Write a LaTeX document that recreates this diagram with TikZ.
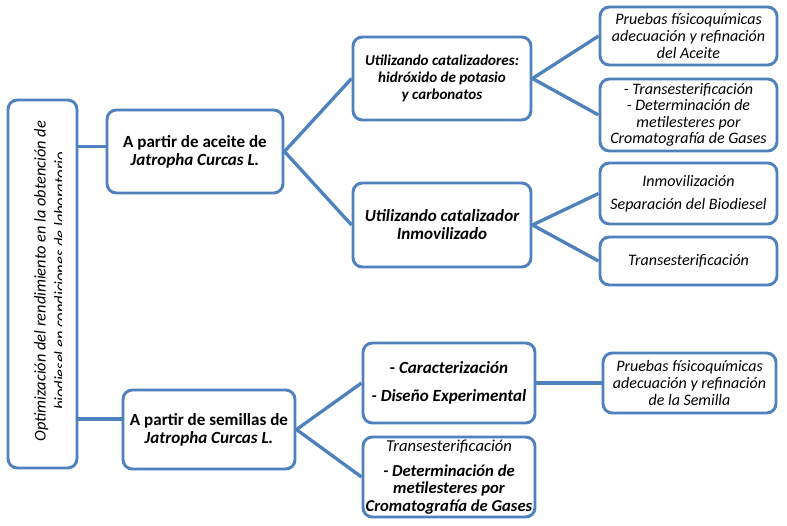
\documentclass[tikz,border=0pt]{standalone}
\usepackage{fontspec}
\setmainfont{Carlito}
\definecolor{azul}{RGB}{79,129,189}
\newcommand{\tam}{\fontsize{12.8}{13.5}\selectfont}
\newcommand{\chico}{\fontsize{12}{12.4}\selectfont}
\begin{document}
\begin{tikzpicture}[x=0.75pt,y=-0.75pt,
  caja/.style={draw=azul, line width=2.2pt, rounded corners=7pt, fill=white, align=center, inner sep=1pt, font=\tam},
  fuerte/.style={caja, font=\tam\bfseries\itshape},
  suave/.style={caja, font=\chico\itshape},
  rama/.style={draw=azul, line width=2.5pt}]
\useasboundingbox (0,0) rectangle (787,525);

% root
\node[caja, minimum width=51.75pt, minimum height=276pt] (raiz) at (42.5,284) {};
\begin{scope}
\clip (10,100) rectangle (61,468);
\node[rotate=90, align=center, font=\fontsize{12.3}{15}\selectfont\itshape] (raiztexto) at (50,281)
  {Optimización del rendimiento en la obtención de\\ biodiesel en condiciones de laboratorio};
\end{scope}

% second level
\node[caja, minimum width=132pt, minimum height=62.25pt] (aceite) at (195,151.5)
  {{\bfseries A partir de aceite de}\\ {\bfseries\itshape Jatropha Curcas L.}};
\node[caja, minimum width=129pt, minimum height=59.25pt] (semillas) at (209,429.5)
  {{\bfseries A partir de semillas de}\\ {\bfseries\itshape Jatropha Curcas L.}};

% third level
\node[fuerte, minimum width=133.5pt, minimum height=62.25pt, font=\fontsize{11.3}{12.8}\selectfont\bfseries\itshape] (catuno) at (442,78.5)
  {Utilizando catalizadores:\\ hidróxido de potasio\\ y carbonatos};
\node[fuerte, minimum width=133.5pt, minimum height=63pt] (catdos) at (442,225)
  {Utilizando catalizador\\ Inmovilizado};
\node[fuerte, minimum width=129pt, minimum height=60pt] (carac) at (449,383)
  {{\upshape -} Caracterización\\[7.5pt] - Diseño Experimental};
\node[fuerte, minimum width=129pt, minimum height=60pt, font=\fontsize{12.5}{13.1}\selectfont\bfseries\itshape] (trans) at (449,477)
  {{\mdseries Transesterificación}\\[5.5pt] - Determinación de\\ metilesteres por\\ Cromatografía de Gases};

% fourth level
\node[suave, minimum width=132.75pt, minimum height=43.5pt] (pruebauno) at (688.5,36)
  {Pruebas físicoquímicas\\ adecuación y refinación\\ del Aceite};
\node[suave, minimum width=132.75pt, minimum height=54pt] (transuno) at (688.5,115)
  {- Transesterificación\\ - Determinación de\\ metilesteres por\\ Cromatografía de Gases};
\node[suave, minimum width=132.75pt, minimum height=45.75pt] (inmov) at (688.5,193.5)
  {Inmovilización\\[5pt] Separación del Biodiesel};
\node[suave, minimum width=132.75pt, minimum height=36pt] (transdos) at (688.5,261)
  {Transesterificación};
\node[suave, minimum width=129.75pt, minimum height=45pt] (pruebados) at (689.5,383)
  {Pruebas físicoquímicas\\ adecuación y refinación\\ de la Semilla};

% connectors
\coordinate (pa) at ([yshift=4pt]aceite.west);
\coordinate (ps) at ([yshift=8pt]semillas.west);
\draw[rama] (pa -| raiz.east) -- (pa);
\draw[rama] (ps -| raiz.east) -- (ps);

\draw[rama] (aceite.east) -- (catuno.west);
\draw[rama] (aceite.east) -- (catdos.west);
\draw[rama] (semillas.east) -- (carac.west);
\draw[rama] (semillas.east) -- (trans.west);

\draw[rama] (catuno.east) -- (pruebauno.west);
\draw[rama] (catuno.east) -- (transuno.west);
\draw[rama] (catdos.east) -- (inmov.west);
\draw[rama] (catdos.east) -- (transdos.west);
\draw[rama] (carac.east) -- (pruebados.west);
\end{tikzpicture}
\end{document}
